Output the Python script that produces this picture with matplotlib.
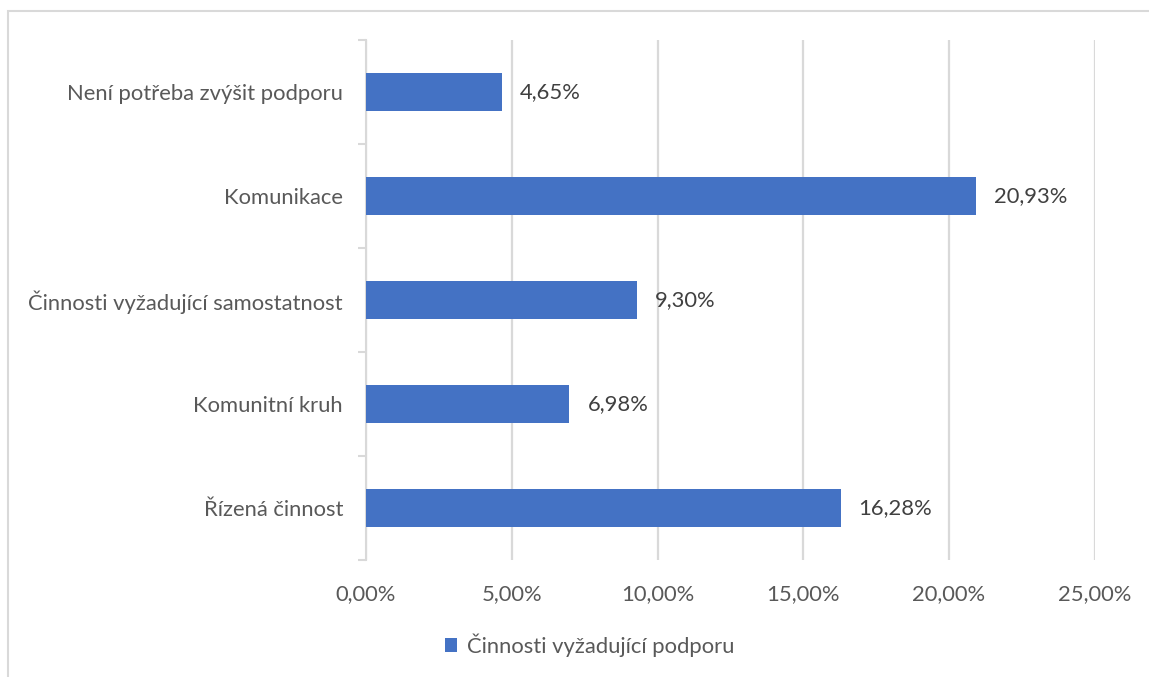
import matplotlib
matplotlib.use("Agg")
import matplotlib.pyplot as plt
from matplotlib.patches import Rectangle
from matplotlib.ticker import FuncFormatter, MultipleLocator

# Data
categories = [
    "Řízená činnost",
    "Komunitní kruh",
    "Činnosti vyžadující samostatnost",
    "Komunikace",
    "Není potřeba zvýšit podporu",
]
values = [16.28, 6.98, 9.30, 20.93, 4.65]
series_name = "Činnosti vyžadující podporu"

BAR = "#4472C4"
GRID = "#D9D9D9"
TXT = "#595959"
LBL = "#404040"
FONT = "Lato"
FS = 15.8

W, H = 1149, 677
fig = plt.figure(figsize=(W / 100, H / 100), dpi=100)
fig.patch.set_facecolor("white")

# outer chart-area border (only top and left edges fall inside the image)
fig.patches.append(Rectangle((8 / W, -0.1), 1.2, 1 - 11 / H + 0.1,
                             transform=fig.transFigure, fill=False,
                             edgecolor=GRID, linewidth=1.5))

ax = fig.add_axes([366 / W, 1 - 560 / H, (1094.75 - 366) / W, (560 - 40) / H])
ypos = list(range(len(categories)))
bars = ax.barh(ypos, values, height=0.36, color=BAR, zorder=3, label=series_name)

ax.set_xlim(0, 25)
ax.set_ylim(-0.5, len(categories) - 0.5)
ax.xaxis.set_major_locator(MultipleLocator(5))
ax.xaxis.set_major_formatter(FuncFormatter(lambda v, p: f"{v:.2f}".replace(".", ",") + "%"))
ax.grid(axis="x", color=GRID, linewidth=1.6, zorder=0)
ax.set_axisbelow(True)

for s in ["top", "right", "bottom"]:
    ax.spines[s].set_visible(False)
ax.spines["left"].set_color(GRID)
ax.spines["left"].set_linewidth(1.5)

ax.tick_params(axis="x", length=0, pad=17, labelsize=FS, labelcolor=TXT)
ax.set_yticks(ypos)
ax.set_yticklabels(categories, fontsize=FS, color=TXT, fontfamily=FONT)
ax.tick_params(axis="y", which="major", length=0, pad=16.5)
# category separators on the value axis
ax.set_yticks([y - 0.5 for y in range(len(categories) + 1)], minor=True)
ax.tick_params(axis="y", which="minor", length=6, color=GRID, width=1.5)
for lab in ax.get_xticklabels():
    lab.set_fontfamily(FONT)

for b, v in zip(bars, values):
    ax.text(v + 0.62, b.get_y() + b.get_height() / 2,
            f"{v:.2f}".replace(".", ",") + "%",
            va="center", ha="left", fontsize=FS, color=LBL, fontfamily=FONT)

leg = fig.legend(handles=[bars], labels=[series_name], loc="center",
                 bbox_to_anchor=(590 / W, 1 - 645 / H), frameon=False,
                 handlelength=0.55, handleheight=0.55, handletextpad=0.45,
                 prop={"family": FONT, "size": FS})
for t in leg.get_texts():
    t.set_color(TXT)

fig.savefig("out.png", dpi=100, facecolor="white")
